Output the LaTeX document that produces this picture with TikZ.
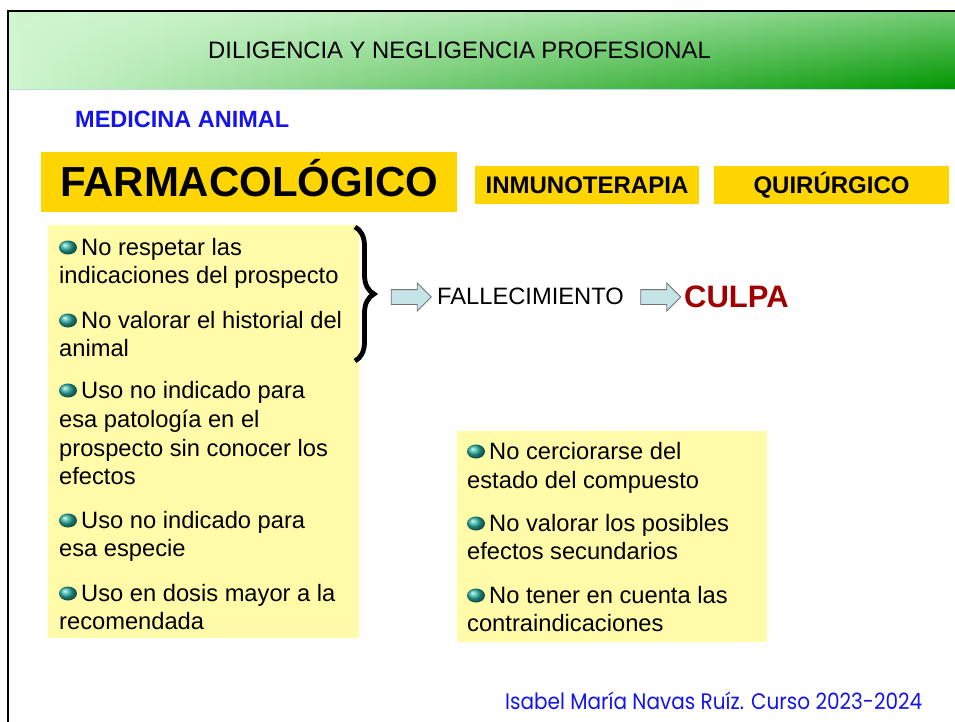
\documentclass[tikz,border=0pt]{standalone}
\usepackage{fontspec}
\setmainfont{Liberation Sans}
\newfontfamily\footfont{Poppins}
\usetikzlibrary{decorations.pathreplacing,shapes.arrows}
\definecolor{gold}{RGB}{255,213,0}
\definecolor{pale}{RGB}{255,251,168}
\definecolor{titleblue}{RGB}{20,20,235}
\definecolor{culpared}{RGB}{160,0,0}
\definecolor{arrowfill}{RGB}{197,228,232}
\definecolor{hdrlight}{RGB}{208,246,208}
\definecolor{hdrdark}{RGB}{0,150,0}
\definecolor{hdrline}{RGB}{185,222,232}
\definecolor{gem}{RGB}{40,175,160}
\newcommand\gemline[4]{%
  \shade[gemb] (#2+9,#3-7.5) ellipse [x radius=9pt, y radius=7pt];
  \node[txt] (#1) at (#2+22,#3) {#4};}
\newcommand\plainline[4]{\node[txt] (#1) at (#2,#3) {#4};}
\begin{document}
\begin{tikzpicture}[x=1pt,y=-1pt,
  txt/.style={inner sep=0pt, anchor=base west, font=\fontsize{23.7}{28.5}\selectfont},
  tab/.style={fill=gold, inner sep=0pt, font=\bfseries\fontsize{24}{28}\selectfont,
    text height=17.2pt, text depth=0pt, minimum height=38.5pt},
  panel/.style={fill=pale, inner sep=0pt, anchor=north west},
  gemb/.style={shading=ball, ball color=gem},
  barrow/.style={shape=single arrow, draw=black!55, fill=arrowfill, line width=0.8pt,
    inner xsep=0pt, inner ysep=7pt, single arrow head extend=6.5pt,
    minimum height=40pt, minimum width=0pt},
  plain/.style={inner sep=0pt, anchor=base west}
]
\useasboundingbox (0,0) rectangle (955,722);
% header: vertical strips, darker to the right, light top on the right
\foreach \i in {0,...,157} {
  \pgfmathsetmacro\xa{9+6*\i}
  \pgfmathsetmacro\xb{min(955,\xa+6.6)}
  \pgfmathtruncatemacro\pb{100-100*\i/157}
  \pgfmathtruncatemacro\pt{100-45*(\i/157)^1.5}
  \shade[top color=hdrlight!\pt!hdrdark, bottom color=hdrlight!\pb!hdrdark]
    (\xa,12) rectangle (\xb,89);
}
\draw[hdrline, line width=1.5pt] (9,89.5) -- (955,89.5);
\draw[line width=2pt] (8,722) -- (8,11) -- (955,11);
\node[inner sep=0pt, anchor=base, font=\fontsize{23.8}{28}\selectfont] (title) at (459.5,58.5)
  {DILIGENCIA Y NEGLIGENCIA PROFESIONAL};
\node[plain, font=\bfseries\fontsize{23.5}{28}\selectfont, text=titleblue] (med) at (75,127.5)
  {MEDICINA ANIMAL};
% tabs
\node[fill=gold, inner sep=0pt, minimum width=416pt, minimum height=60pt,
  font=\bfseries\fontsize{42}{48}\selectfont, text height=30.1pt, text depth=0pt]
  (farm) at (249,181.7) {FARMACOLÓGICO};
\node[tab, minimum width=224pt] (inmu) at (587,185.2) {INMUNOTERAPIA};
\node[tab, minimum width=235pt] (quir) at (831.5,185.2) {QUIRÚRGICO};
% panels
\node[panel, minimum width=311pt, minimum height=413pt] (leftpanel) at (48,225) {};
\node[panel, minimum width=310pt, minimum height=211pt] (rightpanel) at (457,431) {};
% left panel text
\gemline{a1}{59}{255}{No respetar las}
\plainline{a2}{59}{283.5}{indicaciones del prospecto}
\gemline{b1}{59}{328}{No valorar el historial del}
\plainline{b2}{59}{356.5}{animal}
\gemline{c1}{59}{398}{Uso no indicado para}
\plainline{c2}{59}{427}{esa patología en el}
\plainline{c3}{59}{456}{prospecto sin conocer los}
\plainline{c4}{59}{484.5}{efectos}
\gemline{d1}{59}{528}{Uso no indicado para}
\plainline{d2}{59}{556.5}{esa especie}
\gemline{e1}{59}{601}{Uso en dosis mayor a la}
\plainline{e2}{59}{629.5}{recomendada}
% right panel text
\gemline{f1}{467}{459}{No cerciorarse del}
\plainline{f2}{467}{488}{estado del compuesto}
\gemline{g1}{467}{531}{No valorar los posibles}
\plainline{g2}{467}{559}{efectos secundarios}
\gemline{h1}{467}{603}{No tener en cuenta las}
\plainline{h2}{467}{631}{contraindicaciones}
% brace and result chain
\coordinate (bt) at (355,227);
\coordinate (bb) at (355,361);
\draw[line width=4.8pt, decorate, decoration={brace, amplitude=19pt}] (bt) -- (bb);
\node[barrow] (ar1) at (407.5,297) {};
\node[plain, font=\fontsize{23.7}{28}\selectfont] (fall) at (437,304.5) {FALLECIMIENTO};
\node[barrow] (ar2) at (657,297) {};
\node[plain, font=\bfseries\fontsize{31}{36}\selectfont, text=culpared] (culpa) at (684,307) {CULPA};
% footer
\node[plain, text=titleblue] (foot) at (505,709)
  {\scalebox{1}[1.12]{\resizebox{417pt}{!}{\footfont Isabel María Navas Ruíz. Curso 2023-2024}}};
\end{tikzpicture}
\end{document}
